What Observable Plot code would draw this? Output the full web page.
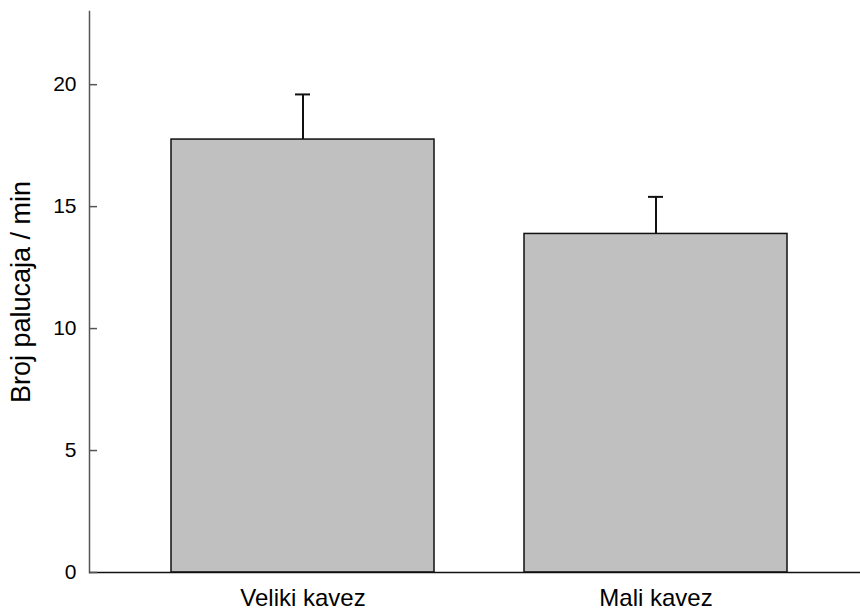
<!DOCTYPE html>
<html>
<head>
<meta charset="utf-8">
<script src="https://cdn.jsdelivr.net/npm/d3@7"></script>
<script src="https://cdn.jsdelivr.net/npm/@observablehq/plot@0.6"></script>
<style>
  html, body { margin: 0; padding: 0; background: #fff; }
  svg { display: block; }
</style>
</head>
<body>
<div id="chart"></div>
<script>
const categories = ["Veliki kavez", "Mali kavez"];
const means = [17.75, 13.88];
const errors = [1.85, 1.52];
const yTicks = [0, 5, 10, 15, 20];
const yLabel = "Broj palucaja / min";

const data = categories.map((c, i) => ({cat: c, mean: means[i], top: means[i] + errors[i]}));

const chart = Plot.plot({
  width: 860,
  height: 611,
  marginLeft: 89,
  marginRight: 0,
  marginTop: 11,
  marginBottom: 39,
  style: {fontFamily: "Liberation Sans, Arial, sans-serif", fontSize: "20px", background: "#fff", color: "#000"},
  x: {domain: categories, range: [89, 869], paddingInner: 0.254, paddingOuter: 0.229, label: null},
  y: {domain: [0, 23], label: null},
  marks: [
    Plot.frame({anchor: "left", stroke: "#555", strokeWidth: 1.5}),
    Plot.ruleX(data, {x: "cat", y1: "mean", y2: "top", stroke: "#111", strokeWidth: 2}),
    Plot.tickY(data, {x: "cat", y: "top", stroke: "#111", strokeWidth: 2, insetLeft: 124, insetRight: 124}),
    Plot.barY(data, {x: "cat", y: "mean", fill: "#c0c0c0", stroke: "#111", strokeWidth: 1.5}),
    Plot.ruleY([0], {stroke: "#111", strokeWidth: 1.5}),
    Plot.axisY({ticks: yTicks, tickSize: 0, tickPadding: 13, fontSize: 21, label: null}),
    Plot.axisY({ticks: yTicks, tickSize: -8, text: null, stroke: "#555", strokeWidth: 1.5, label: null}),
    Plot.axisX({tickSize: 0, tickPadding: 16, fontSize: 24, label: null}),
    Plot.text([yLabel], {frameAnchor: "left", textAnchor: "middle", dx: -68, rotate: -90, fontSize: 27, text: d => d})
  ]
});
document.getElementById("chart").appendChild(chart);
</script>
</body>
</html>
